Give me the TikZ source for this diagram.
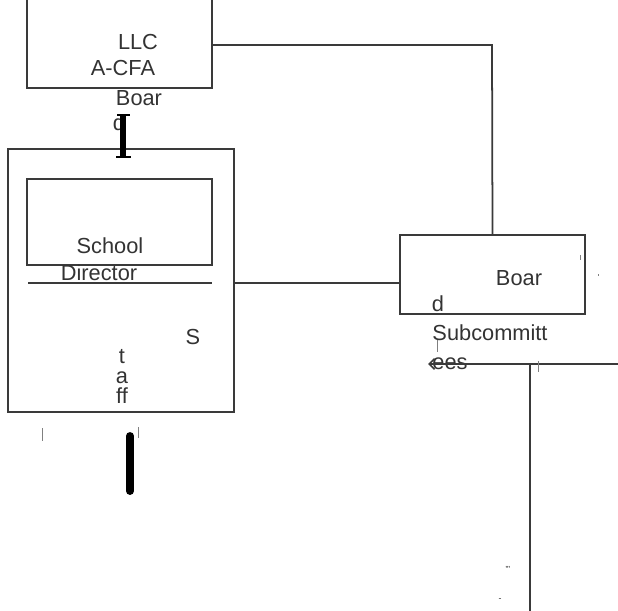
\documentclass[tikz,border=0pt]{standalone}
\usepackage{fontspec}
\setmainfont{Liberation Sans}
\usetikzlibrary{arrows.meta,positioning}
\definecolor{LineGray}{HTML}{3A3A3A}
\definecolor{TextGray}{HTML}{333333}
\tikzset{
    % Base box style
    basebox/.style={
        draw=LineGray,
        line width=1pt,
        inner sep=0pt
    },
    % Plain label
    labeltext/.style={
        text=TextGray,
        inner sep=0pt,
        font=\fontsize{12.4}{14}\selectfont
    },
    % Single letters stacked
    lettertext/.style={
        labeltext,
        text height=#1,
        text depth=0pt
    },
    % Tiny stray marks
    tinytext/.style={
        text=TextGray,
        inner sep=0pt,
        font=\fontsize{5}{6}\selectfont
    },
    % Connector lines
    myline/.style={
        line width=1pt,
        draw=LineGray
    },
    % Heavy bars
    thickbar/.style={
        line width=3.6pt,
        draw=black
    },
    ticks/.style={
        line width=0.5pt,
        draw=gray
    }
}
\begin{document}
\begin{tikzpicture}[x=0.02cm,y=-0.02cm]
    \useasboundingbox (0,0) rectangle (618,611);
    \clip (0,0) rectangle (618,611);
    % boxes
    \node[basebox,minimum width=3.7cm,minimum height=1.96cm] (llc) at (119.5,39) {};
    \node[basebox,minimum width=4.52cm,minimum height=5.26cm] (staff) at (121,280.5) {};
    \node[basebox,minimum width=3.7cm,minimum height=1.72cm] (director) at (119.5,222) {};
    \node[basebox,minimum width=3.7cm,minimum height=1.58cm] (board) at (492.5,274.5) {};
    % labels
    \node[labeltext] (llct) at (138,42) {LLC};
    \node[labeltext] (acfa) at (123,68) {A-CFA};
    \node[labeltext] (boar1) at (139,98) {Boar};
    \node[labeltext] (d1) at (119,123) {d};
    \node[labeltext] (school) at (110,246) {School};
    \node[labeltext] (dirt) at (99,273) {Director};
    \node[labeltext] (s) at (193,337) {S};
    \node[lettertext=1.4ex] (t) at (122,357) {t};
    \node[lettertext=1.1ex] (a) at (122,378) {a};
    \node[lettertext=1.55ex] (ff) at (122,396) {ff};
    \node[labeltext] (boar2) at (519,278) {Boar};
    \node[labeltext] (d2) at (438,304) {d};
    \node[labeltext] (subc) at (490,333) {Subcommitt};
    \node[labeltext] (ees) at (450,364) {ees};
    \node[tinytext] (dots) at (508,569) {'''};
    \node[tinytext] (dash) at (500,600) {-};
    % connectors
    \coordinate (corner) at (492,45);
    \coordinate (ylink) at (317,283);
    \coordinate (split) at (530,364);
    \draw[myline] (llc.east |- corner) -- (corner) -- (board.north);
    \draw[myline] (staff.east |- ylink) -- (board.west |- ylink);
    \draw[myline] (28,283) -- (212,283);
    \draw[myline,{Straight Barb[length=3pt]}-] (428,364) -- (618,364);
    \draw[myline] (split) -- (530,611);
    \draw[thickbar] (123,116) -- (123,156);
    \draw[line width=1.5pt] (117,115) -- (130,115);
    \draw[line width=1.5pt] (116,157) -- (131,157);
    \draw[thickbar,line width=4.5pt,line cap=round] (130,436) -- (130,491);
    % stray ticks
    \draw[ticks] (42,428) -- (42,441);
    \draw[ticks] (138,427) -- (138,438);
    \draw[ticks] (538,361) -- (538,372);
    \draw[ticks] (437,340) -- (437,352);
    \draw[ticks] (580,255) -- (580,260);
    \draw[ticks] (598,274) -- (598,276);
\end{tikzpicture}
\end{document}
